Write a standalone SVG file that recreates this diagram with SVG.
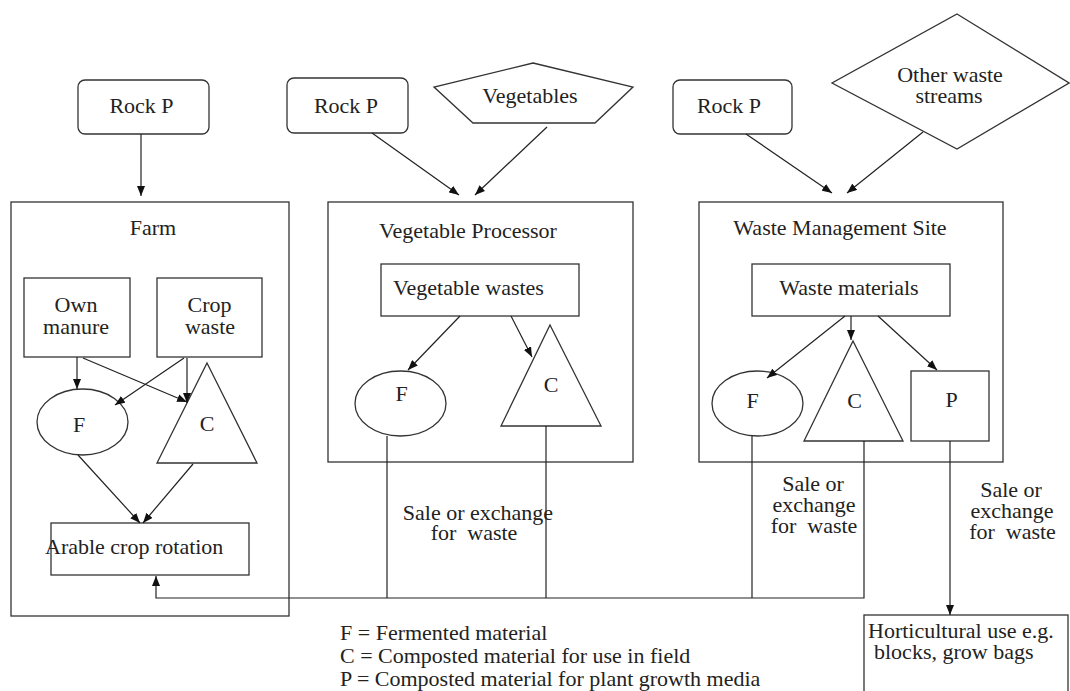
<svg xmlns="http://www.w3.org/2000/svg" width="1070" height="691" viewBox="0 0 1070 691">
<style>
  .box { fill: #fff; stroke: #333; stroke-width: 1.3; }
  .ln { fill: none; stroke: #222; stroke-width: 1.2; }
  text { font-family: 'Liberation Serif', 'DejaVu Serif', 'Times New Roman', serif; font-size: 22px; fill: #222; }
  .m { text-anchor: middle; }
</style>
<defs>
  <marker id="ah" markerUnits="userSpaceOnUse" markerWidth="10" markerHeight="8" refX="10" refY="4" orient="auto">
    <path d="M0,0 L10,4 L0,8 z" fill="#111"/>
  </marker>
</defs>
<rect width="1070" height="691" fill="#fff"/>

<!-- top inputs -->
<g id="rockp1"><rect class="box" x="78" y="80" width="131" height="54" rx="7"/><text class="m" x="141.5" y="113">Rock P</text></g>
<g id="rockp2"><rect class="box" x="287" y="78" width="121" height="55" rx="7"/><text class="m" x="346" y="113">Rock P</text></g>
<g id="vegetables"><polygon class="box" points="533,63 633,87 595,123 473,123 434,87"/><text class="m" x="530" y="103">Vegetables</text></g>
<g id="rockp3"><rect class="box" x="673" y="80" width="119" height="54" rx="7"/><text class="m" x="729" y="113">Rock P</text></g>
<g id="otherwaste"><polygon class="box" points="957,14 1069,83 957,149 832,83"/><text class="m" x="950" y="82">Other waste</text><text class="m" x="949" y="103">streams</text></g>

<!-- Farm -->
<g id="farm"><rect class="box" x="11" y="202" width="278" height="414"/><text class="m" x="153" y="235">Farm</text></g>
<g id="ownmanure"><rect class="box" x="24" y="278" width="106" height="79"/><text class="m" x="76" y="312">Own</text><text class="m" x="76" y="334">manure</text></g>
<g id="cropwaste"><rect class="box" x="157" y="278" width="105" height="79"/><text class="m" x="209.5" y="312">Crop</text><text class="m" x="210" y="334">waste</text></g>
<g id="farmF"><ellipse class="box" cx="82.5" cy="422" rx="45.5" ry="33"/><text class="m" x="79" y="432">F</text></g>
<g id="farmC"><polygon class="box" points="207,363 257,463 157,463"/><text class="m" x="207" y="431">C</text></g>
<g id="arable"><rect class="box" x="51" y="523" width="198" height="52"/><text x="45" y="554">Arable crop rotation</text></g>

<!-- Vegetable Processor -->
<g id="vegproc"><rect class="box" x="328" y="202" width="305" height="260"/><text class="m" x="468" y="238">Vegetable Processor</text></g>
<g id="vegwastes"><rect class="box" x="381" y="264" width="198" height="52"/><text class="m" x="468.5" y="295">Vegetable wastes</text></g>
<g id="vpF"><ellipse class="box" cx="400.5" cy="403.5" rx="45.5" ry="32.5"/><text class="m" x="401.5" y="401">F</text></g>
<g id="vpC"><polygon class="box" points="550,325 601,426 501,426"/><text class="m" x="551" y="392">C</text></g>

<!-- Waste Management Site -->
<g id="wms"><rect class="box" x="699" y="202" width="304" height="260"/><text class="m" x="840" y="235">Waste Management Site</text></g>
<g id="wastemat"><rect class="box" x="752" y="264" width="198" height="52"/><text class="m" x="849" y="295">Waste materials</text></g>
<g id="wmsF"><ellipse class="box" cx="757.5" cy="403.5" rx="45.5" ry="32.5"/><text class="m" x="752.5" y="408">F</text></g>
<g id="wmsC"><polygon class="box" points="853,341 903,441 804,441"/><text class="m" x="854.5" y="408">C</text></g>
<g id="wmsP"><rect class="box" x="911" y="371" width="78" height="70"/><text class="m" x="951.5" y="407">P</text></g>

<!-- Horticultural -->
<g id="horti"><rect class="box" x="864" y="615" width="204" height="90"/><text x="868" y="638">Horticultural use e.g.</text><text x="874" y="659">blocks, grow bags</text></g>

<!-- connectors -->
<g id="connectors">
  <line class="ln" x1="141" y1="134" x2="141" y2="196" marker-end="url(#ah)"/>
  <line class="ln" x1="372" y1="133" x2="459" y2="195" marker-end="url(#ah)"/>
  <line class="ln" x1="547" y1="127" x2="475" y2="195" marker-end="url(#ah)"/>
  <line class="ln" x1="746" y1="134" x2="832" y2="193" marker-end="url(#ah)"/>
  <line class="ln" x1="923" y1="132" x2="847" y2="193" marker-end="url(#ah)"/>

  <line class="ln" x1="77" y1="357" x2="77" y2="389" marker-end="url(#ah)"/>
  <line class="ln" x1="83" y1="358" x2="187" y2="402" marker-end="url(#ah)"/>
  <line class="ln" x1="184" y1="358" x2="115" y2="405" marker-end="url(#ah)"/>
  <line class="ln" x1="187" y1="358" x2="187" y2="403" marker-end="url(#ah)"/>
  <line class="ln" x1="78" y1="455" x2="140" y2="523" marker-end="url(#ah)"/>
  <line class="ln" x1="193" y1="464" x2="143" y2="523" marker-end="url(#ah)"/>

  <line class="ln" x1="460" y1="316" x2="408" y2="370" marker-end="url(#ah)"/>
  <line class="ln" x1="511" y1="316" x2="532" y2="357" marker-end="url(#ah)"/>

  <line class="ln" x1="845" y1="316" x2="767" y2="378" marker-end="url(#ah)"/>
  <line class="ln" x1="851" y1="316" x2="851" y2="340" marker-end="url(#ah)"/>
  <line class="ln" x1="878" y1="316" x2="937" y2="370" marker-end="url(#ah)"/>

  <line class="ln" x1="950" y1="441" x2="950" y2="615" marker-end="url(#ah)"/>
  <polyline class="ln" points="864,441 864,598 156,598 156,576" marker-end="url(#ah)"/>
  <line class="ln" x1="387" y1="436" x2="387" y2="598"/>
  <line class="ln" x1="546" y1="426" x2="546" y2="598"/>
  <line class="ln" x1="752" y1="436" x2="752" y2="598"/>
</g>

<!-- labels -->
<g id="labels">
  <text class="m" x="478" y="520">Sale or exchange</text>
  <text class="m" x="474" y="540" xml:space="preserve">for  waste</text>
  <text class="m" x="813" y="491">Sale or</text>
  <text class="m" x="814" y="512">exchange</text>
  <text class="m" x="814" y="533" xml:space="preserve">for  waste</text>
  <text class="m" x="1011" y="497">Sale or</text>
  <text class="m" x="1012" y="518">exchange</text>
  <text class="m" x="1012.5" y="539" xml:space="preserve">for  waste</text>
  <text x="340" y="640">F = Fermented material</text>
  <text x="340" y="663">C = Composted material for use in field</text>
  <text x="340" y="686">P = Composted material for plant growth media</text>
</g>
</svg>
